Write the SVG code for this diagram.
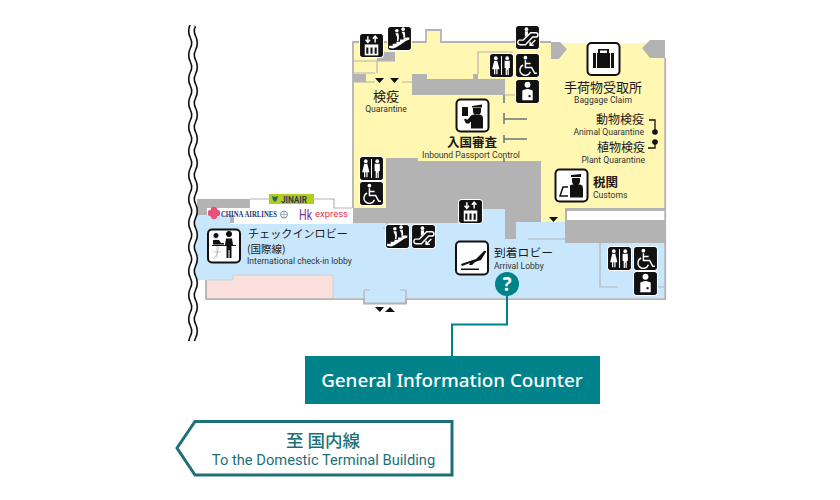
<svg xmlns="http://www.w3.org/2000/svg" width="840" height="500" viewBox="0 0 840 500">
<style>
text{font-family:"Noto Sans","Noto Sans CJK JP",sans-serif;fill:#231815}
.ja{font-family:"Noto Sans CJK JP","Noto Sans",sans-serif;font-size:13px}
.en{font-family:Roboto,"Noto Sans",sans-serif;font-size:8.600px;fill:#333}
.b{font-weight:700}
.m{text-anchor:middle}
.e{text-anchor:end}
.wall{fill:#b3b3b3}
.ln{fill:none;stroke:#b3b3b3;stroke-width:1.200}
.thick{fill:none;stroke:#b3b3b3;stroke-width:1.800}
.desk{fill:none;stroke:#67767a;stroke-width:1.500}
.tri{fill:#111}
.blk{fill:#111;stroke:#fff;stroke-width:1}
.box{fill:#fff;stroke:#111;stroke-width:2}
.w{fill:#fff}
.ws{fill:none;stroke:#fff;stroke-width:1.400}
.k{fill:#111}
.teal{fill:#00828a}
</style>
<defs>
<clipPath id="wave-clip"><rect x="180" y="25" width="30" height="316"/></clipPath>
<symbol id="i-elev" viewBox="0 0 24 24"><rect class="blk" x=".5" y=".5" width="23" height="23" rx="3"/><path class="ws" d="M8.500 9V3M6.300 6.500L8.500 9 10.700 6.500M15.500 9V3M13.300 5.500L15.500 3 17.700 5.500"/><rect class="w" x="5.500" y="11" width="13" height="10.500"/><path class="k" d="M7 14h2v6H7zM11 14h2v6h-2zM15 14h2v6h-2z"/></symbol>
<symbol id="i-stair" viewBox="0 0 24 24"><rect class="blk" x=".5" y=".5" width="23" height="23" rx="3"/><path class="w" d="M2 21v-2h3.500v-2h3.500v-2h3.500v-2h3.500v-2h5.500v2l-3.500 1.500-3 2-3 2-3 2-3 1z"/><circle class="w" cx="9.500" cy="4.500" r="1.700"/><circle class="w" cx="15.500" cy="3" r="1.700"/><path class="w" d="M8 7h3l.5 4-.5 3.500H9.500l.3-3.500zM14 5.500h3l.5 4-.5 1.500h-1.500l.3-2z"/></symbol>
<symbol id="i-esc" viewBox="0 0 24 24"><rect class="blk" x=".5" y=".5" width="23" height="23" rx="3"/><path class="ws" d="M3.500 18.500a2.500 2.500 0 0 1 .5-4h4l7-7h5a2 2 0 0 1 0 4h-3l-7 7.500H5z"/><circle class="w" cx="11" cy="4" r="1.800"/><path class="w" d="M9.500 6h3v3l-3 2.500z"/><path class="ws" d="M19.500 14.500l-5 5M14.500 16v3.500H18"/></symbol>
<symbol id="i-wc" viewBox="0 0 24 24"><rect class="blk" x=".5" y=".5" width="23" height="23" rx="3"/><circle class="w" cx="6.500" cy="5" r="1.800"/><path class="w" d="M5 7.500h3l2 8H8.200v5H7v-5H6v5H4.800v-5H3z"/><rect class="w" x="11.500" y="3" width="1" height="18"/><circle class="w" cx="17.500" cy="5" r="1.800"/><path class="w" d="M15 7.500h5v7h-1v6.500h-1.200v-5h-.6v5H16v-6.500h-1z"/></symbol>
<symbol id="i-wheel" viewBox="0 0 24 24"><rect class="blk" x=".5" y=".5" width="23" height="23" rx="3"/><circle class="w" cx="10" cy="4.500" r="1.800"/><path class="ws" d="M10 7v7h6l3 5.500h2M10 10h5"/><path class="ws" d="M7.800 11.500a5.200 5.200 0 1 0 7 6.500"/></symbol>
<symbol id="i-nurse" viewBox="0 0 24 24"><rect class="blk" x=".5" y=".5" width="23" height="23" rx="3"/><circle class="w" cx="12" cy="5.500" r="2.800"/><path class="w" d="M7 11q5-3 10 0v9.500H7z"/><rect class="k" x="13" y="15.500" width="2" height="2"/></symbol>
</defs>

<g id="floorplan">
<path fill="#fff7b2" d="M353 42H426V30H441V42H551V43H665V208H565V222H541V165H386V208H353Z"/>
<path class="wall" d="M386 158H418V161H541V222H516V239H505V209H483V223H353V208H386Z"/>
<path fill="#c8e7fd" d="M195 215H230V224H353V223H483V209H505V239H516V222H565V243H665V298H406V304H364V298H333V300H206V280H195Z"/>
<path fill="#fae0dc" d="M207 280H233V275H333V299H207Z"/>
<path class="wall" d="M197 199H250V208H234V223H230V215H197Z"/>
<path fill="#fff" d="M207 208H234V215H207Z"/>
<path fill="#fff" d="M234 208H250V199H333V208H352V223H234Z"/>
<path class="ln" d="M250 199H334V208H352"/>
<path class="wall" d="M565 208H666V243H565Z"/>
<path fill="#fff" d="M567 211H666V220H567Z"/>
<path class="wall" d="M412 74H427V79H473V74H478V79H505V95H412ZM551 42H560L567 49 559 59H551ZM642 48L650 40H665V58H650ZM353 74H366V82.500H353ZM377 52H395V61H377Z"/>
<path class="thick" d="M353 208V42H426V30H441V42H551M665.200 58V243M206 280V299.200H364V303.500H406V299.200H665.200V243"/>
<path class="ln" d="M478 74V52H513M353 61H395M353 73H375M377 61V73M365 82H375M402 82H412M505 95H515M528 239H565M600 243V287H618M658 287H664M364 290V304M406 290V304M364 290H370M400 290H406M387 223V228H383"/>
<path fill="none" stroke="#c9c9c9" stroke-width=".8" d="M207 280H233V275H333V299"/>
<path class="desk" d="M504 95V103M504 113V124M504 119H527M504 135V143M504 139H527M504 158V162"/>
<path class="tri" d="M375 78H384L379.500 83ZM390 78H399L394.500 83ZM549 217H558L553.500 222ZM375 307H384L380 312ZM385 312H395L390 307Z"/>
<g clip-path="url(#wave-clip)">
<path fill="none" stroke="#111" stroke-width="7.200" d="M193 25q-3 6 0 12t0 12 0 12 0 12 0 12 0 12 0 12 0 12 0 12 0 12 0 12 0 12 0 12 0 12 0 12 0 12 0 12 0 12 0 12 0 12 0 12 0 12 0 12 0 12 0 12 0 12 0 12"/>
<path fill="none" stroke="#fff" stroke-width="4" d="M193 25q-3 6 0 12t0 12 0 12 0 12 0 12 0 12 0 12 0 12 0 12 0 12 0 12 0 12 0 12 0 12 0 12 0 12 0 12 0 12 0 12 0 12 0 12 0 12 0 12 0 12 0 12 0 12 0 12"/>
</g>
</g>

<g id="connectors">
<path fill="none" stroke="#00828a" stroke-width="2" d="M507 296V324.500H452V356"/>
<path fill="none" stroke="#111" stroke-width="1.300" d="M649 120H655V131M655 142V148H648"/>
<circle class="k" cx="655" cy="132" r="2.800"/><circle class="k" cx="655" cy="142" r="2.800"/>
</g>

<g id="elevator-1"><use href="#i-elev" x="359" y="33" width="25" height="25"/></g>
<g id="stairs-1"><use href="#i-stair" x="387" y="26" width="25" height="25"/></g>
<g id="escalator-1"><use href="#i-esc" x="515" y="25" width="25" height="25"/></g>
<g id="toilet-1"><use href="#i-wc" x="489" y="53" width="25" height="25"/></g>
<g id="wheelchair-1"><use href="#i-wheel" x="515" y="53" width="25" height="25"/></g>
<g id="nursing-1"><use href="#i-nurse" x="515" y="79" width="25" height="25"/></g>
<g id="toilet-2"><use href="#i-wc" x="359" y="156" width="25" height="25"/></g>
<g id="wheelchair-2"><use href="#i-wheel" x="359" y="181" width="25" height="25"/></g>
<g id="elevator-2"><use href="#i-elev" x="458" y="199" width="25" height="25"/></g>
<g id="stairs-2"><use href="#i-stair" x="385" y="224" width="25" height="25"/></g>
<g id="escalator-2"><use href="#i-esc" x="411" y="224" width="25" height="25"/></g>
<g id="toilet-3"><use href="#i-wc" x="607" y="246" width="25" height="25"/></g>
<g id="wheelchair-3"><use href="#i-wheel" x="633" y="246" width="25" height="25"/></g>
<g id="nursing-3"><use href="#i-nurse" x="633" y="271" width="25" height="25"/></g>

<g id="quarantine"><text class="ja m" x="386" y="100.500">検疫</text><text class="en m" x="386" y="111.500">Quarantine</text></g>

<g id="baggage-claim">
<rect class="box" x="587.500" y="43" width="32" height="32" rx="4"/>
<path class="k" d="M593 53h21v15h-21zM598 53v-4h11v4h-2v-2.500h-7V53z"/>
<path d="M596.500 53v15M610.500 53v15" stroke="#fff" stroke-width="1"/>
<text class="ja m" x="603" y="91.500">手荷物受取所</text><text class="en m" x="603" y="102.500">Baggage Claim</text>
</g>

<g id="animal-quarantine"><text class="ja e" x="644" y="123.500" style="font-size:12px">動物検疫</text><text class="en e" x="644" y="135">Animal Quarantine</text></g>
<g id="plant-quarantine"><text class="ja e" x="645" y="151.500" style="font-size:12px">植物検疫</text><text class="en e" x="645" y="163">Plant Quarantine</text></g>

<g id="passport-control">
<rect class="box" x="456.500" y="99.500" width="32" height="32" rx="4"/>
<path class="k" d="M472 106l10-1.500v3h-10zM473 108h8v3a4 4 0 0 1-8 0zM470 117l-3 3-1-1.500-2 1 2 4h3l2-2v7h12v-10q0-4-4-4h-5q-3 0-4.500 2.500z"/>
<rect class="k" x="462" y="107" width="6" height="9" rx=".5"/>
<text class="ja b m" x="472" y="146.500" style="font-size:12.500px">入国審査</text><text class="en m" x="471" y="157.500">Inbound Passport Control</text>
</g>

<g id="customs">
<rect class="box" x="555.500" y="169.500" width="32" height="32" rx="4"/>
<path class="k" d="M571 175l10-1v3h-10zM572 178h8v3a4 4 0 0 1-8 0zM570 186q0-1.500 3-1.500h6q4 0 4 4v9h-13z"/>
<path fill="none" stroke="#111" stroke-width="1.500" d="M568 187h-5l-3 9h8"/>
<text class="ja b" x="593" y="186.500" style="font-size:12.500px">税関</text><text class="en" x="593" y="197.500">Customs</text>
</g>

<g id="checkin-lobby">
<rect class="box" x="208" y="229.500" width="32" height="33" rx="4"/>
<path fill="none" stroke="#aaa" stroke-width=".6" d="M213 237a14 14 0 0 1 0 22M217 238v20M213 244h8M213 252h8"/>
<path class="k" d="M216 238a2.500 2.500 0 1 1 .01 0zM213 240h6l2 3h3v1.500h-11zM229 237a3 3 0 1 1 .01 0zM226 238.500h6l1 6.500h-1.500v13h-2v-8h-1v8h-2v-13H225z"/>
<rect class="k" x="212" y="245" width="24" height="1"/>
<text class="ja" x="248" y="237.500" style="font-size:11.100px">チェックインロビー</text>
<text class="ja" x="247" y="253" style="font-size:10.500px">(国際線)</text>
<text class="en" x="247" y="264">International check-in lobby</text>
</g>

<g id="airline-logos">
<rect x="269" y="194" width="45" height="10" fill="#b4cc1c"/>
<path fill="#1b6a7a" d="M272 196l3 1 3-1-1 4-2 2-2-2z"/>
<text x="281" y="202.500" textLength="26" lengthAdjust="spacingAndGlyphs" style="font-family:Roboto,sans-serif;font-size:9px;font-weight:700;fill:#2b3a55">JINAIR</text>
<g fill="#e8527a"><circle cx="211" cy="213" r="3.200"/><circle cx="217" cy="213" r="3.200"/><circle cx="214" cy="210" r="3.200"/><circle cx="214" cy="216" r="3.200"/></g>
<text x="221" y="217" textLength="56" lengthAdjust="spacingAndGlyphs" class="b" style="font-family:'Liberation Serif',serif;font-size:7.800px;fill:#27356f">CHINA AIRLINES</text>
<circle cx="284" cy="214.500" r="3.500" fill="none" stroke="#8590a8" stroke-width="1"/>
<path fill="none" stroke="#8590a8" stroke-width=".6" d="M280.500 214.500h7M284 211v7"/>
<text transform="translate(299 220) scale(.72 1)" style="font-family:Roboto,sans-serif;font-size:15px;fill:#7c2f9e">Hk</text>
<text x="315" y="217" textLength="33" lengthAdjust="spacingAndGlyphs" style="font-family:Roboto,sans-serif;font-size:9.500px;fill:#e5304a">express</text>
</g>

<g id="arrival-lobby">
<rect class="box" x="456" y="241.500" width="32" height="33" rx="4"/>
<path class="k" d="M461 264l15-5 8-8q2-1 2 1l-5 8-6 2-3 3-3 0 1-2-8 3z"/>
<rect class="k" x="461" y="268.500" width="18" height="1.500"/>
<text class="ja" x="494" y="256.500" style="font-size:11.800px">到着ロビー</text><text class="en" x="494" y="268.500">Arrival Lobby</text>
</g>

<g id="information-marker">
<circle class="teal" cx="507" cy="284" r="12"/>
<text x="507" y="291" class="m b" style="font-size:19px;fill:#fff">?</text>
</g>

<g id="information-counter">
<rect class="teal" x="305" y="356" width="295" height="48"/>
<text x="452" y="386.500" class="m" style="font-size:18.800px;font-weight:500;fill:#fff">General Information Counter</text>
</g>

<g id="to-domestic">
<path d="M177 448L195 421.500H452V475H195Z" fill="#fff" stroke="#1d7078" stroke-width="3"/>
<text x="323" y="446.500" class="m" style="font-family:'Noto Sans CJK JP',sans-serif;font-size:17.500px;font-weight:500;fill:#1d7078">至 国内線</text>
<text x="323.500" y="465" class="m" style="font-family:Roboto,sans-serif;font-size:14.700px;fill:#1d7078">To the Domestic Terminal Building</text>
</g>
</svg>
